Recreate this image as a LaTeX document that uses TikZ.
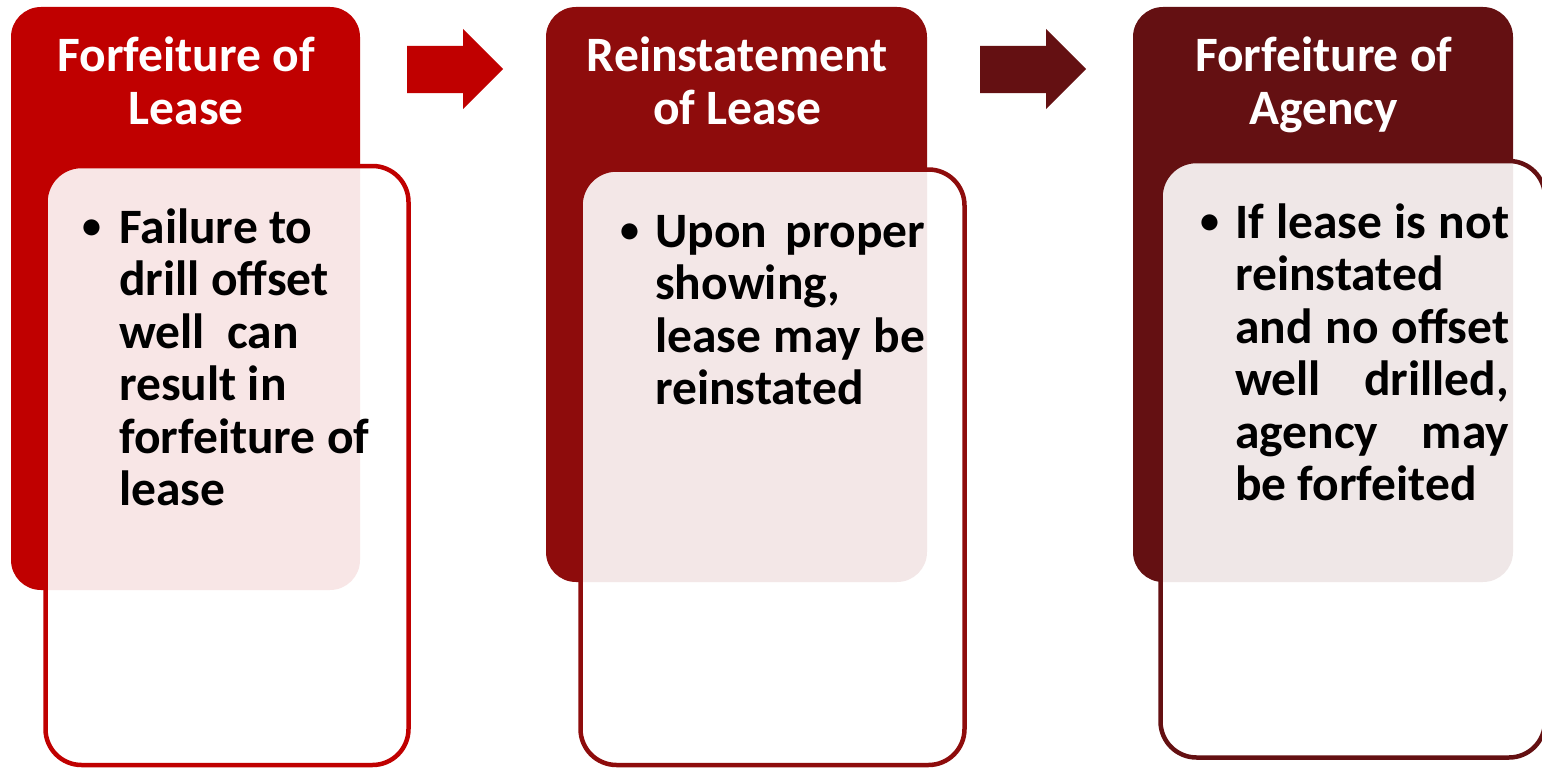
\documentclass[tikz,border=0pt]{standalone}
\usepackage{fontspec}
\setmainfont{Carlito}
\definecolor{cA}{HTML}{C00000}
\definecolor{cB}{HTML}{8E0C0C}
\definecolor{cC}{HTML}{641012}
\newcommand\ttl[2]{\vtop{\baselineskip=53pt\hbox to 0pt{\hss#1\hss}\hbox to 0pt{\hss#2\hss}}}
\tikzset{
  header/.style={fill=#1, rounded corners=30pt},
  body/.style={draw=#1, line width=4.5pt, fill=white, fill opacity=0.9, draw opacity=1, rounded corners=36pt},
  blockarrow/.style={fill=#1},
  ttltext/.style={anchor=base west, inner sep=0pt, text=white, font=\fontsize{49.5}{53}\selectfont\bfseries},
  bodytext/.style={anchor=base west, inner sep=0pt, text=black, font=\fontsize{49.5}{52.5}\selectfont\bfseries},
  bul/.style={anchor=base, inner sep=0pt, text=black, font=\fontsize{38}{40}\selectfont\bfseries}
}
\begin{document}
\begin{tikzpicture}[x=1pt,y=-1pt]
\useasboundingbox (0,0) rectangle (1542,768);
\clip (0,0) rectangle (1542,768);
% panel 1
\path[header=cA] (11,7) rectangle (360,590);
\path[body=cA] (45.5,166) rectangle (408.5,765);
\node[ttltext] (t1) at (185.5,71) {\ttl{Forfeiture of}{Lease}};
\node[bul] (b1) at (92,238) {•};
\node[bodytext] (x1) at (119,243) {\vtop{\baselineskip=52.5pt
  \hbox{Failure to}\hbox{drill offset}\hbox{well\ \ can}\hbox{result in}\hbox{forfeiture of}\hbox{lease}}};
% arrow 1
\path[blockarrow=cA] (407,46) -- (463,46) -- (463,29) -- (503,69) -- (463,109) -- (463,93) -- (407,93) -- cycle;
% panel 2
\path[header=cB] (546,7) rectangle (927,582);
\path[body=cB] (580.5,169.5) rectangle (964.5,765);
\node[ttltext] (t2) at (736.5,71) {\ttl{Reinstatement}{of Lease}};
\node[bul] (b2) at (630,242) {•};
\node[bodytext] (x2) at (655,247) {\vtop{\baselineskip=52.5pt
  \hbox to 270pt{Upon\hfil proper}\hbox{showing,}\hbox to 270pt{lease\hfil may\hfil be}\hbox{reinstated}}};
% arrow 2
\path[blockarrow=cC] (980,46) -- (1046,46) -- (1046,29) -- (1086,69) -- (1046,109) -- (1046,93) -- (980,93) -- cycle;
% panel 3
\path[header=cC] (1133,7) rectangle (1513,582);
\path[body=cC] (1160.5,161) rectangle (1545,757.5);
\node[ttltext] (t3) at (1323,71) {\ttl{Forfeiture of}{Agency}};
\node[bul] (b3) at (1210,233) {•};
\node[bodytext] (x3) at (1235,238) {\vtop{\baselineskip=52.5pt
  \hbox to 274pt{If\hfil lease\hfil is\hfil not}\hbox{reinstated}\hbox to 274pt{and\hfil no\hfil offset}\hbox to 274pt{well\hfil drilled,}\hbox to 274pt{agency\hfil may}\hbox{be forfeited}}};
\end{tikzpicture}
\end{document}
